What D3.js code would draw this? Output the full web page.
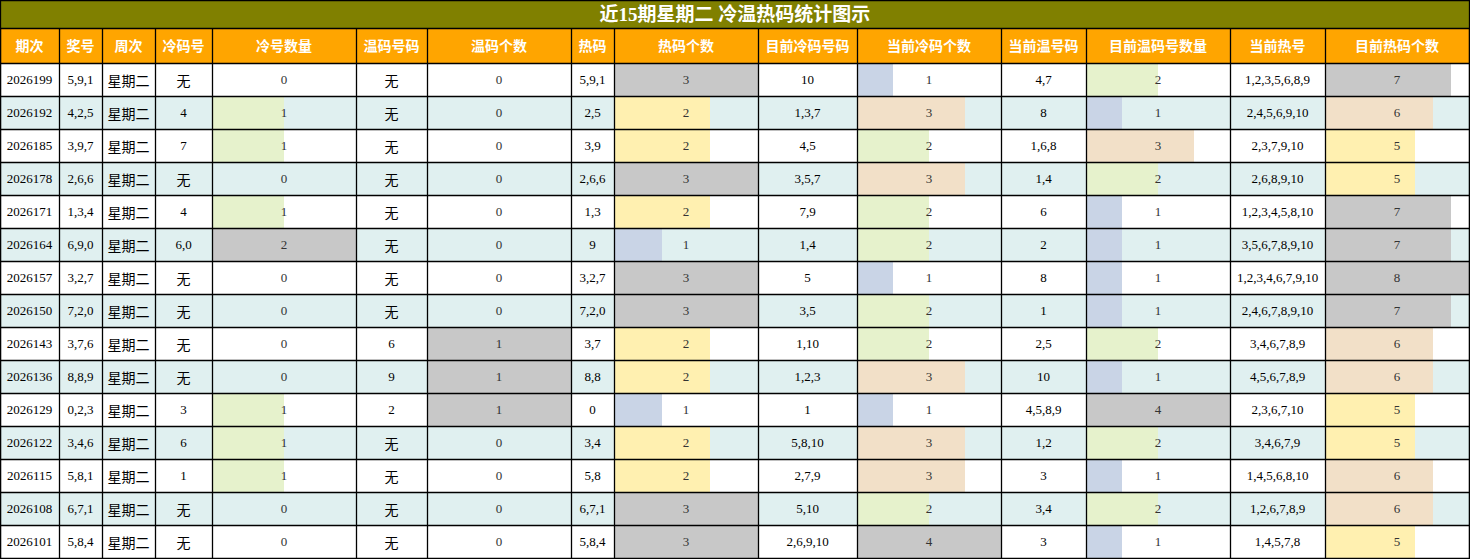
<!DOCTYPE html><html><head><meta charset="utf-8">
<script src="https://cdn.jsdelivr.net/npm/d3@7"></script>
<style>body{margin:0;background:#fff}</style></head><body><svg id="c" width="1470" height="559"></svg>
<script>
const title="近15期星期二 冷温热码统计图示";
const headers=["期次","奖号","周次","冷码号","冷号数量","温码号码","温码个数","热码","热码个数","目前冷码号码","当前冷码个数","当前温号码","目前温码号数量","当前热号","目前热码个数"];
const colEdges=[0,59,102,155,212,356,427,571,614,758,857,1001,1086,1230,1325,1469];
const periods=["2026199","2026192","2026185","2026178","2026171","2026164","2026157","2026150","2026143","2026136","2026129","2026122","2026115","2026108","2026101"];
const draws=["5,9,1","4,2,5","3,9,7","2,6,6","1,3,4","6,9,0","3,2,7","7,2,0","3,7,6","8,8,9","0,2,3","3,4,6","5,8,1","6,7,1","5,8,4"];
const weekday="星期二";
const coldNums=["无","4","7","无","4","6,0","无","无","无","无","3","6","1","无","无"];
const coldCount=[0,1,1,0,1,2,0,0,0,0,1,1,1,0,0];
const warmNums=["无","无","无","无","无","无","无","无","6","9","2","无","无","无","无"];
const warmCount=[0,0,0,0,0,0,0,0,1,1,1,0,0,0,0];
const hotNums=["5,9,1","2,5","3,9","2,6,6","1,3","9","3,2,7","7,2,0","3,7","8,8","0","3,4","5,8","6,7,1","5,8,4"];
const hotCount=[3,2,2,3,2,1,3,3,2,2,1,2,2,3,3];
const curCold=["10","1,3,7","4,5","3,5,7","7,9","1,4","5","3,5","1,10","1,2,3","1","5,8,10","2,7,9","5,10","2,6,9,10"];
const curColdCount=[1,3,2,3,2,2,1,2,2,3,1,3,3,2,4];
const curWarm=["4,7","8","1,6,8","1,4","6","2","8","1","2,5","10","4,5,8,9","1,2","3","3,4","3"];
const curWarmCount=[2,1,3,2,1,1,1,1,2,1,4,2,1,2,1];
const curHot=["1,2,3,5,6,8,9","2,4,5,6,9,10","2,3,7,9,10","2,6,8,9,10","1,2,3,4,5,8,10","3,5,6,7,8,9,10","1,2,3,4,6,7,9,10","2,4,6,7,8,9,10","3,4,6,7,8,9","4,5,6,7,8,9","2,3,6,7,10","3,4,6,7,9","1,4,5,6,8,10","1,2,6,7,8,9","1,4,5,7,8"];
const curHotCount=[7,6,5,5,7,7,8,7,6,6,5,5,6,6,5];

const C={gray:"#c8c8c8",yel:"#fff0b0",blue:"#c9d4e6",tan:"#f2e0c8",grn:"#e6f2cc"};
const cols=[
 {t:periods},{t:draws},{t:periods.map(()=>weekday),cjk:1},{t:coldNums,cjk:1},
 {v:coldCount,max:2,col:{1:C.grn,2:C.gray}},
 {t:warmNums,cjk:1},
 {v:warmCount,max:1,col:{1:C.gray}},
 {t:hotNums},
 {v:hotCount,max:3,col:{1:C.blue,2:C.yel,3:C.gray}},
 {t:curCold},
 {v:curColdCount,max:4,col:{1:C.blue,2:C.grn,3:C.tan,4:C.gray}},
 {t:curWarm},
 {v:curWarmCount,max:4,col:{1:C.blue,2:C.grn,3:C.tan,4:C.gray}},
 {t:curHot},
 {v:curHotCount,max:8,col:{5:C.yel,6:C.tan,7:C.gray,8:C.gray}}
];
const svg=d3.select("#c");
const titleH=28, headY=28, headH=35, rowY0=63, rowH=33;
const y=d3.scaleBand().domain(d3.range(periods.length)).range([rowY0,rowY0+rowH*periods.length]);
svg.append("rect").attr("x",0).attr("y",0).attr("width",1470).attr("height",titleH).attr("fill","#808000");
svg.append("text").attr("x",735).attr("y",21).attr("text-anchor","middle").attr("fill","#fff").attr("font-size",19).attr("font-weight","bold").attr("font-family","'Liberation Serif','Noto Sans CJK SC',serif").text(title);
svg.append("rect").attr("x",0).attr("y",headY).attr("width",1470).attr("height",headH).attr("fill","#ffa500");
headers.forEach((h,i)=>{svg.append("text").attr("x",(colEdges[i]+colEdges[i+1])/2).attr("y",headY+headH/2+5).attr("text-anchor","middle").attr("fill","#fff").attr("font-size",14).attr("font-weight","bold").attr("font-family","'Noto Sans CJK SC',sans-serif").text(h);});
periods.forEach((p,r)=>{
 svg.append("rect").attr("x",0).attr("y",y(r)).attr("width",1470).attr("height",rowH).attr("fill",r%2?"#e0f0f0":"#fff");
});
cols.forEach((c,i)=>{
 const x0=colEdges[i],x1=colEdges[i+1],cx=(x0+x1)/2;
 if(c.v){
  const xs=d3.scaleLinear().domain([0,c.max]).range([x0,x1]);
  c.v.forEach((v,r)=>{
   if(v>0) svg.append("rect").attr("x",x0).attr("y",y(r)).attr("width",xs(v)-x0).attr("height",rowH).attr("fill",c.col[v]);
   svg.append("text").attr("x",cx).attr("y",y(r)+rowH/2+4).attr("text-anchor","middle").attr("font-size",13).attr("fill","#333").attr("font-family","'Liberation Serif',serif").text(v);
  });
 } else {
  c.t.forEach((t,r)=>{
   const cj=/[\u4e00-\u9fff]/.test(t);
   svg.append("text").attr("x",cx).attr("y",y(r)+rowH/2+(cj?6:4)).attr("text-anchor","middle").attr("font-size",cj?14:13).attr("fill","#000").attr("font-family",cj?"'Noto Sans CJK SC',sans-serif":"'Liberation Serif',serif").text(t);
  });
 }
});
// grid
const g=svg.append("g").attr("stroke","#000").attr("stroke-width",1.3);
colEdges.forEach(x=>g.append("line").attr("x1",x+0.5).attr("x2",x+0.5).attr("y1",headY).attr("y2",558));
[0,headY,rowY0].concat(d3.range(1,periods.length+1).map(r=>rowY0+r*rowH)).forEach(yy=>g.append("line").attr("x1",0).attr("x2",1470).attr("y1",Math.min(yy,558)+0.5).attr("y2",Math.min(yy,558)+0.5));
g.append("line").attr("x1",0.5).attr("x2",0.5).attr("y1",0).attr("y2",558);
g.append("line").attr("x1",1469.5).attr("x2",1469.5).attr("y1",0).attr("y2",558);
</script></body></html>
